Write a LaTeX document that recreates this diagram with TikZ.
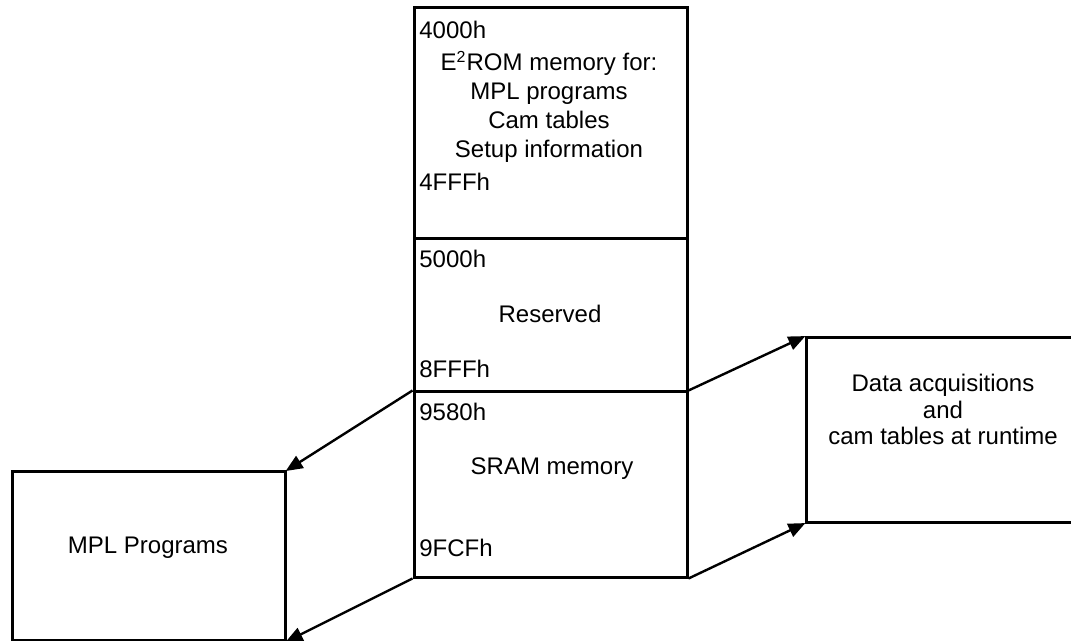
\documentclass[tikz,border=0pt]{standalone}
\usepackage{fontspec}
\setmainfont{Liberation Sans}
\usetikzlibrary{arrows.meta}
\begin{document}
\begin{tikzpicture}[x=0.5pt,y=-0.5pt,
  box/.style={draw=black,line width=1.5pt,rectangle,inner sep=0pt},
  lbl/.style={inner sep=0pt,font=\fontsize{12}{14.5}\selectfont},
  conn/.style={draw=black,line width=1.2pt,-{Triangle[length=8.5pt,width=7pt]},shorten >=-0.5pt}]
\useasboundingbox (0,0) rectangle (1071,641);
\clip (0,0) rectangle (1071,641);
% boxes
\node[box,minimum width=273*0.5pt,minimum height=231*0.5pt] (rom) at (550.5,123.5) {};
\node[box,minimum width=273*0.5pt,minimum height=153*0.5pt] (res) at (550.5,315.5) {};
\node[box,minimum width=273*0.5pt,minimum height=185*0.5pt] (sram) at (550.5,484.5) {};
\node[box,minimum width=273*0.5pt,minimum height=168*0.5pt] (mpl) at (148.5,556) {};
\node[box,minimum width=279*0.5pt,minimum height=184*0.5pt] (data) at (945.5,430) {};
% texts
\node[lbl,anchor=base west] (a4000) at (419,39) {4000h};
\node[lbl,anchor=north,align=center] (romtxt) at (549,50.5) {E\textsuperscript{2}ROM memory for:\\MPL programs\\Cam tables\\Setup information};
\node[lbl,anchor=base west] (a4fff) at (419,191) {4FFFh};
\node[lbl,anchor=base west] (a5000) at (419,268) {5000h};
\node[lbl,anchor=base] (restxt) at (550,323) {Reserved};
\node[lbl,anchor=base west] (a8fff) at (419,378) {8FFFh};
\node[lbl,anchor=base west] (a9580) at (419,421) {9580h};
\node[lbl,anchor=base] (sramtxt) at (552,474) {SRAM memory};
\node[lbl,anchor=base west] (a9fcf) at (419,556) {9FCFh};
\node[lbl,anchor=base] (mpltxt) at (148,553) {MPL Programs};
\node[lbl,anchor=north,align=center,font=\fontsize{12}{13.4}\selectfont] (datatxt) at (943,373.5) {Data acquisitions\\and\\cam tables at runtime};
% connectors
\draw[conn] (sram.north west) -- (mpl.north east);
\draw[conn] (sram.south west) -- (mpl.south east);
\draw[conn] (sram.north east) -- (data.north west);
\draw[conn] (sram.south east) -- (data.south west);
\end{tikzpicture}
\end{document}
